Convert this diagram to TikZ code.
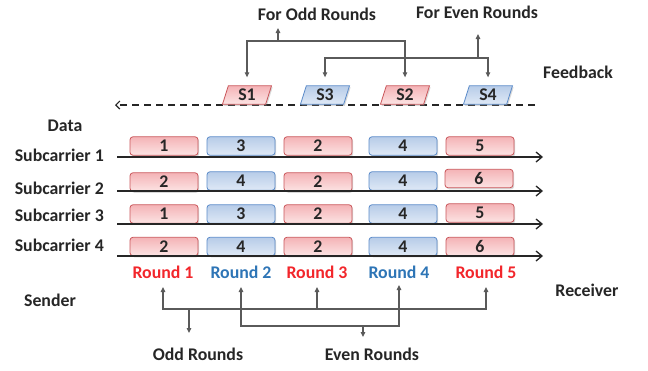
\documentclass[tikz,border=0pt]{standalone}
\usepackage{fontspec}
\setmainfont{Carlito}
\usetikzlibrary{arrows.meta,shapes.geometric,shadows}
\definecolor{ink}{HTML}{262626}
\definecolor{wire}{HTML}{5A5A5A}
\definecolor{redline}{HTML}{C9565A}
\definecolor{redtop}{HTML}{F4B3B6}
\definecolor{redbot}{HTML}{FCE4E4}
\definecolor{blueline}{HTML}{5B8BC9}
\definecolor{bluetop}{HTML}{B7CCE8}
\definecolor{bluebot}{HTML}{DFE9F6}
\definecolor{oddtxt}{HTML}{F2262B}
\definecolor{eventxt}{HTML}{2E75B6}
\begin{document}
\begin{tikzpicture}[x=1pt,y=-1pt,
  font=\fontsize{17.8}{20}\selectfont\bfseries, text=ink,
  lbl/.style={inner sep=0pt},
  pkt/.style={rectangle, rounded corners=3pt, minimum width=68pt, minimum height=18.5pt,
    inner sep=0pt, line width=0.8pt,
    drop shadow={shadow xshift=1.2pt, shadow yshift=-1.5pt, opacity=0.3}},
  redpkt/.style={pkt, draw=redline, top color=redtop, bottom color=redbot},
  bluepkt/.style={pkt, draw=blueline, top color=bluetop, bottom color=bluebot},
  fbk/.style={trapezium, trapezium left angle=77, trapezium right angle=103,
    trapezium stretches=true, minimum width=49pt, minimum height=18.5pt,
    inner sep=0pt, line width=0.8pt,
    drop shadow={shadow xshift=1.2pt, shadow yshift=-1.5pt, opacity=0.3}},
  redfb/.style={fbk, draw=redline, top color=redtop, bottom color=redbot},
  bluefb/.style={fbk, draw=blueline, top color=bluetop, bottom color=bluebot},
  conn/.style={draw=wire, line width=1.1pt},
  tri/.tip={Triangle[length=5pt,width=4.5pt]},
  carrier/.style={draw=ink, line width=1.3pt, -{Straight Barb[length=6pt,width=10pt]}},
]
\useasboundingbox (0,0) rectangle (648,370);

% ---------- feedback channel ----------
\coordinate (fbR) at (535,105);
\coordinate (fbL) at (115,105);
\draw[draw=ink, line width=1.2pt, dash pattern=on 7pt off 5pt,
      -{Straight Barb[length=4pt,width=8pt]}] (fbR) -- (fbL);

\node[redfb]  (s1) at (247,95) {S1};
\node[bluefb] (s3) at (325,95) {S3};
\node[redfb]  (s2) at (405,95) {S2};
\node[bluefb] (s4) at (488,95) {S4};

\node[lbl] (forodd)  at (317,14) {For Odd Rounds};
\node[lbl] (foreven) at (477,12) {For Even Rounds};
\node[lbl] (feedback) at (578,72) {Feedback};

% odd-round feedback bracket
\draw[conn, tri-tri] ([yshift=8pt]s1.north) -- (s1.north |- 0,41)
   -- (s2.north |- 0,41) -- ([yshift=8pt]s2.north);
\coordinate (oddup) at (278,41);
\draw[conn, -tri] (oddup) -- (278,28);
% even-round feedback bracket
\draw[conn, tri-tri] ([yshift=8pt]s3.north) -- (s3.north |- 0,58)
   -- (s4.north |- 0,58) -- ([yshift=8pt]s4.north);
\coordinate (evenup) at (478,58);
\draw[conn, -tri] (evenup) -- (478,34);

% ---------- data subcarriers ----------
\node[lbl] (data) at (65,126) {Data};
\node[lbl, anchor=east] (sc1) at (104,155) {Subcarrier 1};
\node[lbl, anchor=east] (sc2) at (104,188) {Subcarrier 2};
\node[lbl, anchor=east] (sc3) at (104,215) {Subcarrier 3};
\node[lbl, anchor=east] (sc4) at (104,245) {Subcarrier 4};

% row 1
\node[redpkt]  (p11) at (164,146) {1};
\node[bluepkt] (p12) at (241,146) {3};
\node[redpkt]  (p13) at (318,146) {2};
\node[bluepkt] (p14) at (403,146) {4};
\node[redpkt]  (p15) at (480,146) {5};
% row 2
\node[redpkt]  (p21) at (164,182) {2};
\node[bluepkt] (p22) at (241,181) {4};
\node[redpkt]  (p23) at (318,182) {2};
\node[bluepkt] (p24) at (403,181) {4};
\node[redpkt]  (p25) at (479,178.5) {6};
% row 3
\node[redpkt]  (p31) at (164,214) {1};
\node[bluepkt] (p32) at (241,214) {3};
\node[redpkt]  (p33) at (318,214) {2};
\node[bluepkt] (p34) at (403,214) {4};
\node[redpkt]  (p35) at (480,213) {5};
% row 4
\node[redpkt]  (p41) at (164,246.5) {2};
\node[bluepkt] (p42) at (241,246.5) {4};
\node[redpkt]  (p43) at (318,246.5) {2};
\node[bluepkt] (p44) at (403,246.5) {4};
\node[redpkt]  (p45) at (480,246.5) {6};

% carrier time axes
\foreach \r/\y in {1/157,2/191,3/224,4/256}{
  \coordinate (c\r s) at (117,\y);
  \coordinate (c\r e) at (543,\y);
  \draw[carrier] (c\r s) -- (c\r e);
}

% ---------- rounds ----------
\node[lbl, text=oddtxt]  (r1) at (163,272) {Round 1};
\node[lbl, text=eventxt] (r2) at (241,272) {Round 2};
\node[lbl, text=oddtxt]  (r3) at (317,272) {Round 3};
\node[lbl, text=eventxt] (r4) at (399,272) {Round 4};
\node[lbl, text=oddtxt]  (r5) at (486,272) {Round 5};

\node[lbl] (sender)   at (50,300) {Sender};
\node[lbl] (receiver) at (587,290) {Receiver};
\node[lbl] (oddr)  at (198,354) {Odd Rounds};
\node[lbl] (evenr) at (372,354) {Even Rounds};

% odd rounds bracket
\draw[conn, tri-tri] (r1.south |- 0,287) -- (r1.south |- 0,309)
   -- (r5.south |- 0,309) -- (r5.south |- 0,287);
\draw[conn, -tri] (r3.south |- 0,309) -- (r3.south |- 0,287);
\coordinate (oddown) at (189,309);
\draw[conn, -tri] (oddown) -- (189,333);
% even rounds bracket
\draw[conn, tri-tri] (r2.south |- 0,287) -- (r2.south |- 0,326)
   -- (r4.south |- 0,326) -- (r4.south |- 0,285);
\coordinate (evendown) at (363,326);
\draw[conn, -tri] (evendown) -- (363,337);
\end{tikzpicture}
\end{document}
